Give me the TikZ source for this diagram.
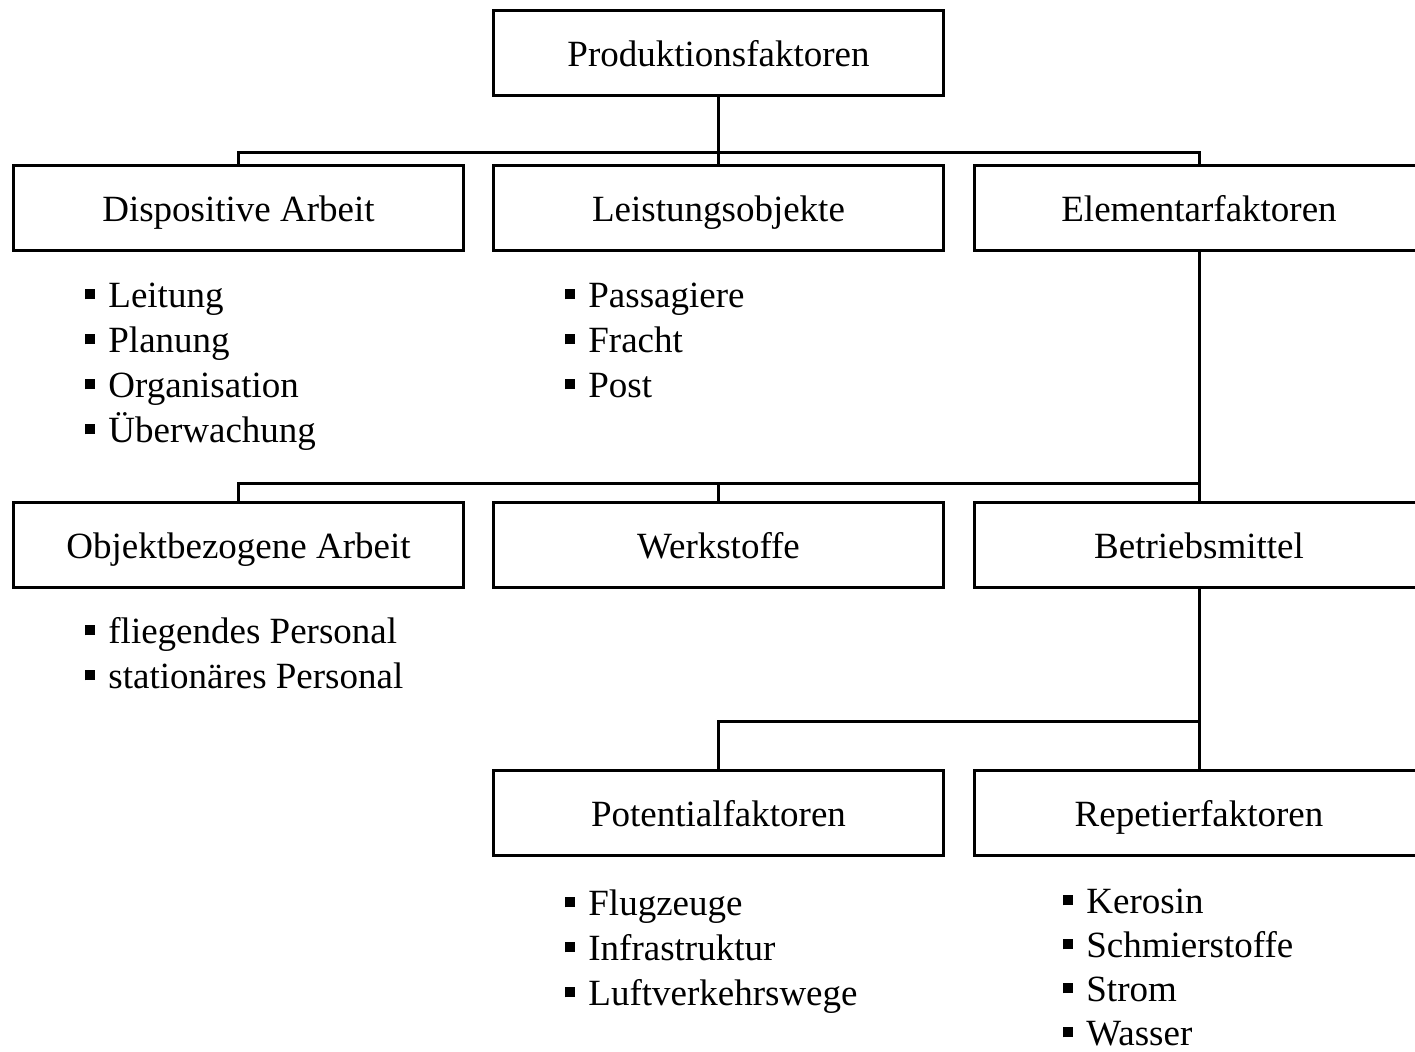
\documentclass[tikz,border=0pt]{standalone}
\usepackage{fontspec}
\setmainfont{Liberation Serif}
\begin{document}
\begin{tikzpicture}[x=0.5pt,y=-0.5pt,
  box/.style={draw,line width=1.5pt,minimum width=225pt,minimum height=42.5pt,
    inner sep=0pt,text height=13.5pt,text depth=0pt,
    font=\fontsize{18.5}{22.5}\selectfont},
  item/.style={anchor=base west,inner sep=0pt,font=\fontsize{18.5}{22.5}\selectfont},
  link/.style={line width=1.5pt}]
\newcommand\sqb{\rule[4.3pt]{5pt}{5pt}\hspace{6.5pt}}
\useasboundingbox (0,0) rectangle (1415,1052);
% boxes
\node[box] (top)  at (718.5,53)  {Produktionsfaktoren};
\node[box] (dis)  at (238.5,208) {Dispositive Arbeit};
\node[box] (leis) at (718.5,208) {Leistungsobjekte};
\node[box] (ele)  at (1199,208)  {Elementarfaktoren};
\node[box] (obj)  at (238.5,545) {Objektbezogene Arbeit};
\node[box] (werk) at (718.5,545) {Werkstoffe};
\node[box] (betr) at (1199,545)  {Betriebsmittel};
\node[box] (pot)  at (718.5,813.5) {Potentialfaktoren};
\node[box] (rep)  at (1199,813.5){Repetierfaktoren};
% junctions
\coordinate (j1) at (718.5,153);
\coordinate (j2) at (1199,484);
\coordinate (j3) at (1199,722);
% connectors
\draw[link] (top.south) -- (leis.north);
\draw[link] (dis.north) |- (j1) -| (ele.north);
\draw[link] (ele.south) -- (betr.north);
\draw[link] (obj.north) |- (j2);
\draw[link] (werk.north) -- (werk.north |- j2);
\draw[link] (betr.south) -- (rep.north);
\draw[link] (pot.north) |- (j3);
% bullet lists
\foreach \t [count=\i] in {Leitung,Planung,Organisation,Überwachung}
  \node[item] (dl\i) at (85,{308+45*(\i-1)}) {\sqb\t};
\foreach \t [count=\i] in {Passagiere,Fracht,Post}
  \node[item] (ll\i) at (565,{308+45*(\i-1)}) {\sqb\t};
\foreach \t [count=\i] in {fliegendes Personal,stationäres Personal}
  \node[item] (ol\i) at (85,{644+45*(\i-1)}) {\sqb\t};
\foreach \t [count=\i] in {Flugzeuge,Infrastruktur,Luftverkehrswege}
  \node[item] (pl\i) at (565,{916+45*(\i-1)}) {\sqb\t};
\foreach \t [count=\i] in {Kerosin,Schmierstoffe,Strom,Wasser}
  \node[item] (rl\i) at (1063,{914+44*(\i-1)}) {\sqb\t};
\end{tikzpicture}
\end{document}
